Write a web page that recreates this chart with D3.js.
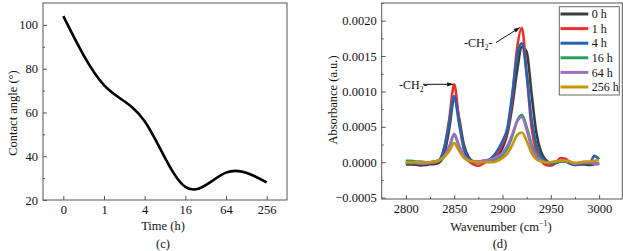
<!DOCTYPE html>
<html>
<head>
<meta charset="utf-8">
<script src="https://cdn.jsdelivr.net/npm/d3@7"></script>
<style>
  body { margin: 0; background: #fff; }
  svg { display: block; font-family: "Liberation Serif", "Times New Roman", serif; }
</style>
</head>
<body>
<svg width="623" height="251"></svg>
<script>
// ---- data: panel (c) contact angle ----
let timeLabels = ["0", "1", "4", "16", "64", "256"],
    contactAngle = [104, 72.5, 56, 26, 32.5, 28];

// ---- data: panel (d) FTIR, absorbance in units of 1e-4 ----
let wavenumbers = d3.range(2800, 3001, 5);
let seriesNames = ["0 h", "1 h", "4 h", "16 h", "64 h", "256 h"],
    seriesColors = ["#3c3c3c", "#e8302f", "#2463b0", "#28a05a", "#9c6fc4", "#c8940a"];
let abs0h = [-0.3,-0.3,-0.35,-0.45,-0.4,-0.3,-0.25,0.0,1.3,4.8,9.1,6.3,2.5,0.7,0.1,0.0,0.05,0.1,0.3,0.9,2.0,4.0,7.8,12.8,16.3,15.6,9.8,4.2,1.4,0.3,-0.1,-0.1,0.1,0.1,-0.2,-0.4,-0.3,-0.3,-0.4,-0.3,-0.2],
    abs1h = [0.0,-0.1,-0.1,-0.2,-0.1,0.0,0.0,0.3,2.2,6.2,11.0,6.0,1.8,0.2,-0.3,-0.5,-0.2,0.2,0.6,1.3,2.6,4.5,9.0,16.0,19.0,12.5,5.0,1.5,0.2,-0.4,-0.5,-0.1,0.6,0.5,0.0,-0.3,-0.2,0.0,-0.1,-0.2,-0.1],
    abs4h = [0.1,0.1,0.0,-0.1,-0.1,0.0,0.1,0.4,2.2,5.5,9.3,5.5,2.0,0.5,0.0,0.0,0.2,0.3,0.8,1.7,3.0,4.8,9.5,15.0,16.8,12.5,6.2,2.5,0.8,0.1,-0.2,-0.1,0.1,0.2,-0.1,-0.3,-0.2,-0.1,-0.2,0.9,0.4],
    abs16h = [0.2,0.2,0.1,0.1,0.0,0.0,0.1,0.2,0.8,2.1,3.8,2.2,0.8,0.2,0.1,0.1,0.1,0.1,0.2,0.5,1.0,1.9,3.6,5.8,6.7,5.0,2.6,1.0,0.3,0.0,-0.1,0.0,0.1,0.1,0.0,-0.2,-0.1,0.0,-0.1,-0.2,-0.2],
    abs64h = [-0.1,-0.1,-0.1,-0.2,-0.2,-0.1,0.0,0.3,0.9,2.3,4.0,2.4,0.9,0.3,0.1,0.1,0.2,0.3,0.5,0.8,1.3,2.3,3.9,5.7,6.4,4.6,2.1,0.8,0.2,0.0,0.0,0.1,0.2,0.2,0.0,-0.2,-0.1,-0.1,0.0,-0.2,-0.3],
    abs256h = [0.0,0.0,0.0,0.0,0.0,0.0,0.1,0.3,0.8,1.6,2.7,1.6,0.6,0.2,0.1,0.0,0.0,0.0,0.0,0.2,0.6,1.2,2.4,3.8,4.2,3.0,1.3,0.4,0.1,0.0,0.0,0.1,0.2,0.2,0.1,-0.1,0.0,0.1,0.1,0.2,0.3];
let spectra = [abs0h, abs1h, abs4h, abs16h, abs64h, abs256h];

let svg = d3.select("svg"),
    frameColor = "#555",
    textColor = "#111";

// ================= panel (c) =================
let xc = d3.scaleLinear().domain([-0.5, 5.5]).range([43, 287]),
    yc = d3.scaleLinear().domain([20, 110]).range([200, 3]);

let gc = svg.append("g");

gc.append("g").attr("transform", "translate(0,200)")
  .call(d3.axisBottom(xc).tickValues(d3.range(6)).tickFormat(i => timeLabels[i]).tickSize(-4).tickPadding(5));
gc.append("g").attr("transform", "translate(43,0)")
  .call(d3.axisLeft(yc).tickValues([20, 40, 60, 80, 100]).tickSize(-4).tickPadding(5));
gc.append("g").attr("transform", "translate(43,0)")
  .call(d3.axisLeft(yc).tickValues([30, 50, 70, 90]).tickSize(-2).tickFormat(""));

gc.append("rect").attr("x", 43).attr("y", 3).attr("width", 244).attr("height", 197)
  .attr("fill", "none").attr("stroke", frameColor).attr("stroke-width", 1);

gc.append("path")
  .datum(contactAngle)
  .attr("fill", "none").attr("stroke", "#000").attr("stroke-width", 2.6)
  .attr("d", d3.line().x((d, i) => xc(i)).y(d => yc(d)).curve(d3.curveNatural));

gc.append("text").attr("transform", "translate(13,113) rotate(-90)")
  .attr("text-anchor", "middle").attr("dy", "0.35em").text("Contact angle (°)");
gc.append("text").attr("x", 163).attr("y", 226).attr("text-anchor", "middle").attr("dy", "0.35em").text("Time (h)");
gc.append("text").attr("x", 163).attr("y", 244).attr("text-anchor", "middle").attr("dy", "0.35em").text("(c)");

// ================= panel (d) =================
let xd = d3.scaleLinear().domain([2775, 3025]).range([381.7, 623.3]),
    yd = d3.scaleLinear().domain([-5.2, 22.5]).range([199, 3]);

let gd = svg.append("g");

gd.append("g").attr("transform", "translate(0,199)")
  .call(d3.axisBottom(xd).tickValues(d3.range(2800, 3001, 50)).tickFormat(d3.format("d")).tickSize(-4).tickPadding(5));
gd.append("g").attr("transform", "translate(0,199)")
  .call(d3.axisBottom(xd).tickValues(d3.range(2825, 3001, 50)).tickSize(-2).tickFormat(""));
gd.append("g").attr("transform", "translate(381.7,0)")
  .call(d3.axisLeft(yd).tickValues(d3.range(-5, 21, 5)).tickFormat(v => d3.format(".4f")(v / 1e4)).tickSize(-4).tickPadding(5));
gd.append("g").attr("transform", "translate(381.7,0)")
  .call(d3.axisLeft(yd).tickValues(d3.range(-2.5, 23, 5)).tickSize(-2).tickFormat(""));

gd.append("rect").attr("x", 381.7).attr("y", 3).attr("width", 240.6).attr("height", 196)
  .attr("fill", "none").attr("stroke", frameColor).attr("stroke-width", 1);

let line = d3.line().x((d, i) => xd(wavenumbers[i])).y(d => yd(d)).curve(d3.curveMonotoneX);
gd.append("g").selectAll("path")
  .data(spectra)
  .join("path")
  .attr("fill", "none")
  .attr("stroke", (d, i) => seriesColors[i])
  .attr("stroke-width", 2.6)
  .attr("stroke-linejoin", "round")
  .attr("d", line);

// annotations
svg.append("defs").append("marker")
  .attr("id", "arrow").attr("viewBox", "0 0 10 10").attr("refX", 10).attr("refY", 5)
  .attr("markerWidth", 7).attr("markerHeight", 6).attr("orient", "auto")
  .append("path").attr("d", "M0,1.5L10,5L0,8.5Z").attr("fill", "#111");

function ch2(x, y) {
  let t = gd.append("text").attr("x", x).attr("y", y).attr("font-size", 12);
  t.append("tspan").text("-CH");
  t.append("tspan").attr("dy", 3).attr("font-size", 7.5).text("2");
  t.append("tspan").attr("dy", -3).text("-");
}
ch2(399, 88.5);
gd.append("line").attr("x1", 423).attr("y1", 84.3).attr("x2", xd(2849)).attr("y2", 84.3)
  .attr("stroke", "#111").attr("stroke-width", 1).attr("marker-end", "url(#arrow)");
ch2(464, 46.5);
gd.append("line").attr("x1", 496).attr("y1", 42.5).attr("x2", xd(2918)).attr("y2", 27.5)
  .attr("stroke", "#111").attr("stroke-width", 1).attr("marker-end", "url(#arrow)");

// legend
let lg = gd.append("g");
lg.append("rect").attr("x", 559.3).attr("y", 6.7).attr("width", 60).attr("height", 88.3)
  .attr("fill", "#fff").attr("stroke", "#666").attr("stroke-width", 1);
let items = lg.selectAll("g.item").data(seriesNames).join("g")
  .attr("transform", (d, i) => "translate(0," + (14 + i * 14.6) + ")");
items.append("line").attr("x1", 560.5).attr("x2", 588.3)
  .attr("stroke", (d, i) => seriesColors[i]).attr("stroke-width", 3);
items.append("text").attr("x", 591.7).attr("dy", "0.35em").attr("font-size", 12).text(d => d);

gd.append("text").attr("transform", "translate(333,100) rotate(-90)")
  .attr("text-anchor", "middle").attr("dy", "0.35em").text("Absorbance (a.u.)");
let wl = gd.append("text").attr("x", 501).attr("y", 231).attr("text-anchor", "middle");
wl.append("tspan").text("Wavenumber (cm");
wl.append("tspan").attr("dy", -5).attr("font-size", 8).text("−1");
wl.append("tspan").attr("dy", 5).text(")");
gd.append("text").attr("x", 500).attr("y", 244).attr("text-anchor", "middle").attr("dy", "0.35em").text("(d)");

// shared text styling
svg.selectAll(".tick text").attr("font-size", 12.5).attr("fill", textColor).attr("font-family", "Liberation Serif");
svg.selectAll(".tick line").attr("stroke", frameColor);
svg.selectAll(".domain").remove();
svg.selectAll("text").filter(function() { return !this.getAttribute("font-size"); }).attr("font-size", 12.5);
svg.selectAll("text").attr("fill", textColor);
</script>
</body>
</html>
